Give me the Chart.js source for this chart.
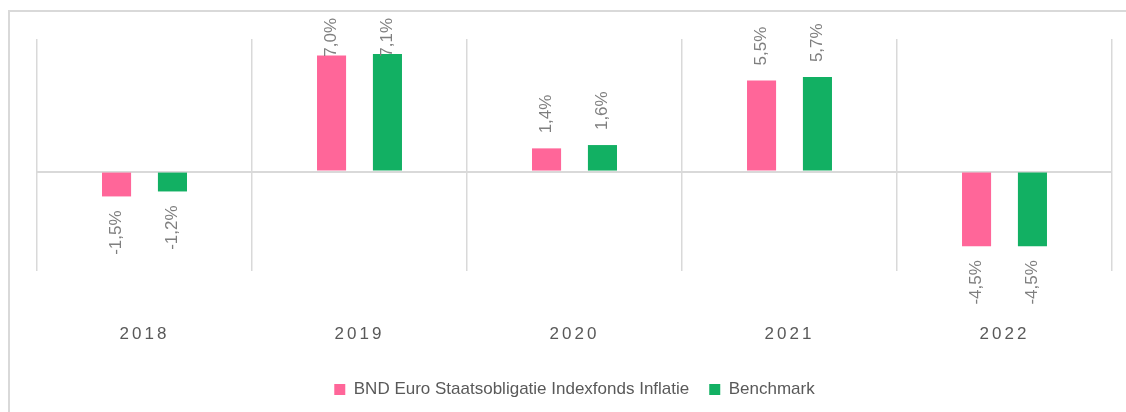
<!DOCTYPE html>
<html>
<head>
<meta charset="utf-8">
<script src="https://cdn.jsdelivr.net/npm/chart.js@4"></script>
<style>
    html, body { margin: 0; padding: 0; background: #fff; overflow: hidden; }
    .frame {
        position: absolute; left: 8px; top: 10px;
        width: 1200px; height: 500px;
        border: 2px solid #d9d9d9; box-sizing: border-box;
    }
    .wrap { position: absolute; left: 0; top: 0; width: 1126px; height: 412px; }
</style>
</head>
<body>
<div class="frame"></div>
<div class="wrap"><canvas id="rendementChart" width="1126" height="412"></canvas></div>
<script>
// Jaren en rendementen (in %)
const jaren = ['2018', '2019', '2020', '2021', '2022'];
const fondsRendement = [-1.5, 7.0, 1.4, 5.5, -4.5];
const benchmarkRendement = [-1.2, 7.1, 1.6, 5.7, -4.5];
const reeksNamen = ['BND Euro Staatsobligatie Indexfonds Inflatie', 'Benchmark'];

const fontFamily = '"Liberation Sans", Arial, sans-serif';

// Waardelabels verticaal boven/onder de staven, met komma als decimaalteken
const waardeLabels = {
    id: 'waardeLabels',
    afterDatasetsDraw(chart) {
        const ctx = chart.ctx;
        ctx.save();
        ctx.font = '17px ' + fontFamily;
        ctx.fillStyle = '#7f7f7f';
        ctx.textBaseline = 'middle';
        chart.data.datasets.forEach((ds, i) => {
            chart.getDatasetMeta(i).data.forEach((bar, j) => {
                const v = ds.data[j];
                const txt = v.toFixed(1).replace('.', ',') + '%';
                const w = ctx.measureText(txt).width;
                ctx.save();
                if (v >= 0) {
                    // niet boven de rand van de grafiek uitsteken
                    const y = Math.max(bar.y - 15, 18 + w);
                    ctx.translate(bar.x, y);
                    ctx.rotate(-Math.PI / 2);
                    ctx.textAlign = 'left';
                } else {
                    ctx.translate(bar.x, bar.y + 14);
                    ctx.rotate(-Math.PI / 2);
                    ctx.textAlign = 'right';
                }
                ctx.fillText(txt, 0, 0);
                ctx.restore();
            });
        });
        ctx.restore();
    }
};

// Jaartallen op de x-as met wat extra letterafstand
const jaarSpatiering = {
    id: 'jaarSpatiering',
    afterUpdate(chart) {
        const x = chart.scales.x;
        if (x._spatiering) return;
        const orig = x.drawLabels;
        x.drawLabels = function (area) {
            chart.ctx.save();
            chart.ctx.letterSpacing = '3px';
            orig.call(this, area);
            chart.ctx.restore();
        };
        x._spatiering = true;
    }
};

new Chart(document.getElementById('rendementChart'), {
    type: 'bar',
    data: {
        labels: jaren,
        datasets: [{
            label: reeksNamen[0],
            data: fondsRendement,
            backgroundColor: '#ff6699'
        }, {
            label: reeksNamen[1],
            data: benchmarkRendement,
            backgroundColor: '#12b063'
        }]
    },
    options: {
        responsive: false,
        animation: false,
        categoryPercentage: 0.52,
        barPercentage: 0.52,
        layout: { padding: { left: 37, right: 14, top: 39, bottom: 4 } },
        scales: {
            x: {
                grid: { color: '#d9d9d9', lineWidth: 1.5, drawTicks: false },
                border: { display: false },
                ticks: {
                    padding: 53,
                    color: '#595959',
                    font: { family: fontFamily, size: 17 }
                },
                afterFit(scale) { scale.height = 90; }
            },
            y: {
                min: -6,
                max: 8,
                grid: {
                    drawTicks: false,
                    lineWidth: 2,
                    color: ctx => ctx.tick && ctx.tick.value === 0 ? '#d9d9d9' : 'transparent'
                },
                border: { display: false },
                ticks: { display: false, stepSize: 1 },
                afterFit(scale) { scale.width = 0; }
            }
        },
        plugins: {
            legend: {
                position: 'bottom',
                labels: {
                    boxWidth: 11,
                    boxHeight: 11,
                    padding: 20,
                    color: '#595959',
                    font: { family: fontFamily, size: 17 }
                }
            },
            tooltip: { enabled: false }
        }
    },
    plugins: [waardeLabels, jaarSpatiering]
});
</script>
</body>
</html>
